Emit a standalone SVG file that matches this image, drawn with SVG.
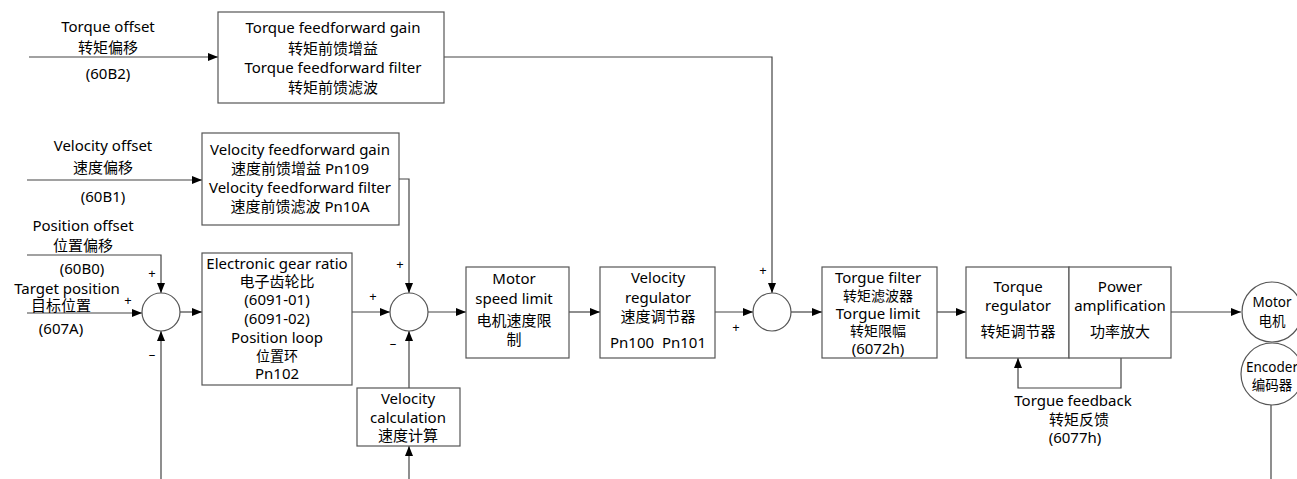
<svg xmlns="http://www.w3.org/2000/svg" width="1297" height="479" viewBox="0 0 1297 479">
<defs>
<marker id="ah" viewBox="0 0 10 8" refX="10" refY="4" markerWidth="10" markerHeight="8" markerUnits="userSpaceOnUse" orient="auto"><path d="M0,0 L10,4 L0,8 z" fill="#000"/></marker>
</defs>
<style>
.b{fill:#fff;stroke:#555;stroke-width:1.2}
.c{fill:none;stroke:#444;stroke-width:1.2}
.a{marker-end:url(#ah)}
.t{font-family:"Noto Sans","Noto Sans CJK SC",sans-serif;font-size:15px;text-anchor:middle;fill:#000;white-space:pre}
.z{font-family:"Noto Sans","Noto Sans CJK SC",sans-serif;font-size:15px;text-anchor:middle;fill:#000}
.k{font-family:"Noto Sans","Noto Sans CJK SC",sans-serif;font-size:14px;text-anchor:middle;fill:#000}
.s{font-family:"Noto Sans","Noto Sans CJK SC",sans-serif;font-size:13.5px;text-anchor:middle;fill:#000}
.p{font-family:"Noto Sans",sans-serif;font-size:13px;text-anchor:middle;fill:#000}
</style>
<rect width="1297" height="479" fill="#fff"/>
<g id="connectors">
<path class="c a" d="M29,57 H218"/>
<path class="c a" d="M444,57 H772 V293"/>
<path class="c a" d="M27,180 H202"/>
<path class="c a" d="M399,179 H409 V293"/>
<path class="c a" d="M27,255 H161 V293"/>
<path class="c a" d="M27,313 H142"/>
<path class="c a" d="M161,479 V331"/>
<path class="c a" d="M180,312 H202"/>
<path class="c a" d="M352,312 H390"/>
<path class="c a" d="M409,388 V331"/>
<path class="c a" d="M409,479 V446"/>
<path class="c a" d="M428,312 H466"/>
<path class="c a" d="M569,312 H600"/>
<path class="c a" d="M715,312 H753"/>
<path class="c a" d="M791,312 H822"/>
<path class="c a" d="M937,312 H966"/>
<path class="c a" d="M1121,358 V388 H1018 V358"/>
<path class="c a" d="M1171,312 H1241"/>
<path class="c" d="M1271,405 V479"/>
</g>
<g id="labels">
<text class="t" x="108" y="32">Torque offset</text>
<text class="z" x="108" y="53">转矩偏移</text>
<text class="t" x="108" y="79">(60B2)</text>
<text class="t" x="103" y="151">Velocity offset</text>
<text class="z" x="103" y="173">速度偏移</text>
<text class="t" x="103" y="202">(60B1)</text>
<text class="t" x="83" y="231">Position offset</text>
<text class="z" x="83" y="251">位置偏移</text>
<text class="t" x="82" y="274">(60B0)</text>
<text class="t" x="67" y="294">Target position</text>
<text class="z" x="61" y="311">目标位置</text>
<text class="t" x="61" y="334">(607A)</text>
<text class="p" x="152" y="278">+</text>
<text class="p" x="128" y="305">+</text>
<text class="p" x="152" y="359">–</text>
<text class="p" x="400" y="269">+</text>
<text class="p" x="373" y="301">+</text>
<text class="p" x="393" y="348">–</text>
<text class="p" x="763" y="275">+</text>
<text class="p" x="736" y="332">+</text>
<text class="t" x="1073" y="406">Torgue feedback</text>
<text class="z" x="1079" y="425">转矩反馈</text>
<text class="t" x="1075" y="443">(6077h)</text>
</g>
<g id="tff">
<rect class="b" x="218" y="12" width="226" height="91"/>
<text class="t" x="333" y="33">Torque feedforward gain</text>
<text class="z" x="333" y="54">转矩前馈增益</text>
<text class="t" x="333" y="73">Torque feedforward filter</text>
<text class="z" x="333" y="93">转矩前馈滤波</text>
</g>
<g id="vff">
<rect class="b" x="202" y="133" width="197" height="92"/>
<text class="t" x="300" y="155">Velocity feedforward gain</text>
<text class="z" x="300" y="174">速度前馈增益 Pn109</text>
<text class="t" x="300" y="193">Velocity feedforward filter</text>
<text class="z" x="300" y="212">速度前馈滤波 Pn10A</text>
</g>
<g id="sum1"><circle class="b" cx="161" cy="312" r="19"/></g>
<g id="egr">
<rect class="b" x="202" y="253" width="150" height="132"/>
<text class="t" x="277" y="269">Electronic gear ratio</text>
<text class="z" x="277" y="287">电子齿轮比</text>
<text class="t" x="277" y="305">(6091-01)</text>
<text class="t" x="277" y="324">(6091-02)</text>
<text class="t" x="277" y="343">Position loop</text>
<text class="k" x="277" y="361">位置环</text>
<text class="t" x="277" y="379">Pn102</text>
</g>
<g id="sum2"><circle class="b" cx="409" cy="312" r="19"/></g>
<g id="vcalc">
<rect class="b" x="357" y="388" width="103" height="58"/>
<text class="t" x="408" y="404">Velocity</text>
<text class="t" x="408" y="423">calculation</text>
<text class="z" x="408" y="441">速度计算</text>
</g>
<g id="msl">
<rect class="b" x="466" y="267" width="103" height="91"/>
<text class="t" x="514" y="284">Motor</text>
<text class="t" x="514" y="304">speed limit</text>
<text class="z" x="514" y="326">电机速度限</text>
<text class="z" x="514" y="345">制</text>
</g>
<g id="vreg">
<rect class="b" x="600" y="267" width="115" height="91"/>
<text class="t" x="658" y="283">Velocity</text>
<text class="t" x="658" y="303">regulator</text>
<text class="z" x="658" y="322">速度调节器</text>
<text class="t" x="658" y="348">Pn100  Pn101</text>
</g>
<g id="sum3"><circle class="b" cx="772" cy="312" r="19"/></g>
<g id="tfilt">
<rect class="b" x="822" y="267" width="115" height="91"/>
<text class="t" x="878" y="283">Torgue filter</text>
<text class="k" x="878" y="301">转矩滤波器</text>
<text class="t" x="878" y="319">Torgue limit</text>
<text class="k" x="878" y="336">转矩限幅</text>
<text class="t" x="878" y="354">(6072h)</text>
</g>
<g id="treg">
<rect class="b" x="966" y="267" width="103" height="91"/>
<text class="t" x="1018" y="292">Torque</text>
<text class="t" x="1018" y="311">regulator</text>
<text class="z" x="1018" y="337">转矩调节器</text>
</g>
<g id="pamp">
<rect class="b" x="1069" y="267" width="102" height="91"/>
<text class="t" x="1120" y="292">Power</text>
<text class="t" x="1120" y="311">amplification</text>
<text class="z" x="1120" y="337">功率放大</text>
</g>
<g id="motor">
<circle class="b" cx="1272" cy="312" r="30"/>
<text class="s" x="1272" y="307">Motor</text>
<text class="s" x="1272" y="326">电机</text>
</g>
<g id="encoder">
<circle class="b" cx="1272" cy="374" r="31"/>
<text class="s" x="1272" y="372">Encoder</text>
<text class="s" x="1272" y="390">编码器</text>
</g>
</svg>
